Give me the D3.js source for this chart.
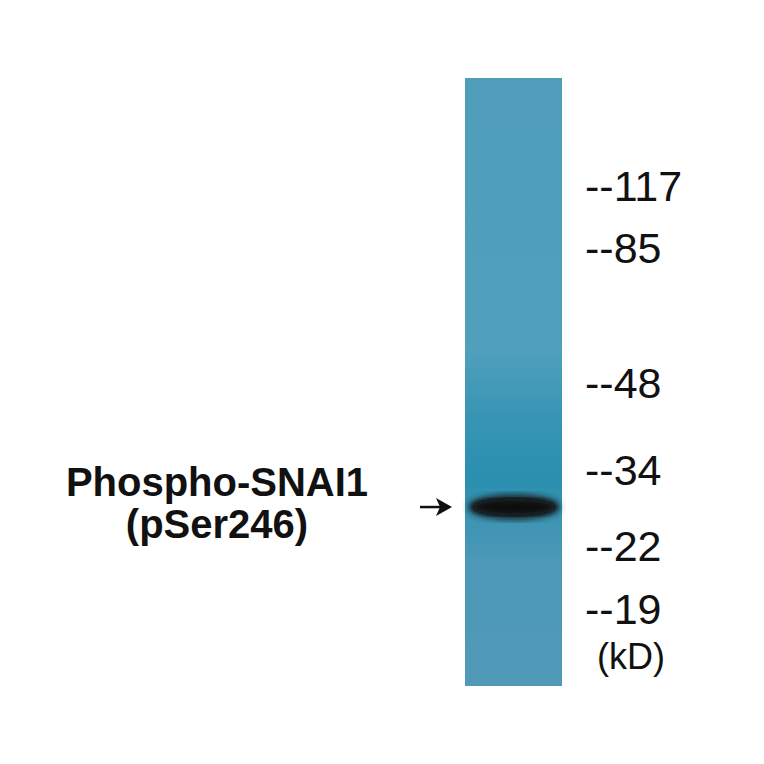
<!DOCTYPE html>
<html><head><meta charset="utf-8">
<script src="https://cdn.jsdelivr.net/npm/d3@7"></script>
<style>body{margin:0;background:#fff}</style></head>
<body><svg id="c" width="764" height="764"></svg>
<script>
const markers = [117, 85, 48, 34, 22, 19];
const markerLabels = ["--117", "--85", "--48", "--34", "--22", "--19"];
const unitLabel = "(kD)";
const targetLabel = ["Phospho-SNAI1", "(pSer246)"];
const bandKD = [27.5];

const svg = d3.select("#c");
const y = d3.scaleLog().domain(markers).range([186, 248, 383, 470, 546, 609]);
const lane = {x0: 465, x1: 562, y0: 78, y1: 686};

const defs = svg.append("defs");
const lg = defs.append("linearGradient").attr("id","lg").attr("x1",0).attr("x2",0).attr("y1",0).attr("y2",1);
[[0,"#4f9dbb"],[0.45,"#4f9fbd"],[0.55,"#3896b4"],[0.66,"#2a8fb0"],[0.72,"#3c94b3"],[0.8,"#4d98b8"],[1,"#5199b8"]]
 .forEach(s=>lg.append("stop").attr("offset",s[0]).attr("stop-color",s[1]));
defs.append("filter").attr("id","bl").append("feGaussianBlur").attr("stdDeviation",3);

svg.append("rect").attr("x",lane.x0).attr("y",lane.y0).attr("width",lane.x1-lane.x0).attr("height",lane.y1-lane.y0).attr("fill","url(#lg)");

const by = y(bandKD[0]);
svg.append("ellipse").attr("cx",514).attr("cy",by).attr("rx",46).attr("ry",13).attr("fill","#1a2a2e").attr("filter","url(#bl)");
svg.append("ellipse").attr("cx",514).attr("cy",by).attr("rx",42).attr("ry",8).attr("fill","#0c0c0c").attr("filter","url(#bl)");

svg.selectAll("text.m").data(markers).join("text").attr("class","m")
 .attr("x",585).attr("y",d=>y(d)+15).text((d,i)=>markerLabels[i])
 .attr("font-family","Liberation Sans, Arial").attr("font-size",43).attr("fill","#111");
svg.append("text").attr("x",597).attr("y",669).text(unitLabel)
 .attr("font-family","Liberation Sans, Arial").attr("font-size",36).attr("fill","#111");

svg.selectAll("text.t").data(targetLabel).join("text").attr("class","t")
 .attr("x",217).attr("y",(d,i)=>496+i*42).attr("text-anchor","middle").text(d=>d)
 .attr("font-family","Liberation Sans, Arial").attr("font-weight","bold").attr("font-size",40).attr("fill","#111");

svg.append("line").attr("x1",420).attr("x2",448).attr("y1",by).attr("y2",by).attr("stroke","#111").attr("stroke-width",2.5);
svg.append("path").attr("d",`M452,${by} L436,${by-9} L440,${by} L436,${by+9} Z`).attr("fill","#111");
</script></body></html>
